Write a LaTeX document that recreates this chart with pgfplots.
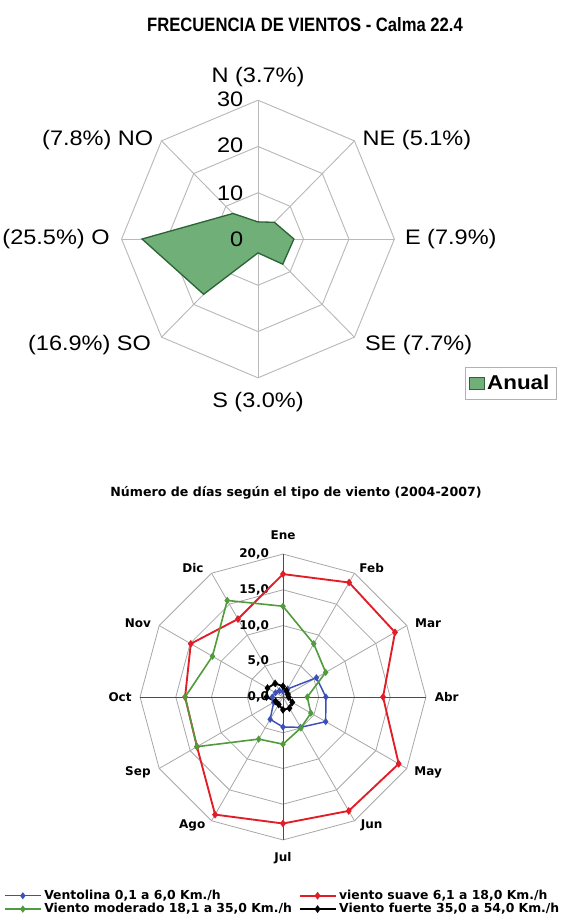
\documentclass[border=0pt]{standalone}
\usepackage{fontspec}
\setmainfont{Liberation Sans}
\newfontfamily\wfont[FakeStretch=1.12]{Liberation Sans}
\newfontfamily\nfont[FakeStretch=0.86]{Liberation Sans}
\newfontfamily\dvfont{DejaVu Sans}
\usepackage{pgfplots}
\pgfplotsset{compat=1.18}
\definecolor{gridc}{RGB}{185,185,185}
\definecolor{fillg}{RGB}{112,175,120}
\definecolor{drawg}{RGB}{45,100,55}
\definecolor{vblue}{RGB}{60,80,185}
\definecolor{vred}{RGB}{225,30,40}
\definecolor{vgreen}{RGB}{80,155,60}
\pgfplotsset{
  sqlegend/.style={legend image code/.code={\draw[##1,line width=0.6pt] (0pt,-4.5pt) rectangle (11pt,4.5pt);}},
  linelegend/.style={legend image code/.code={\draw[mark repeat=2,mark phase=2,##1] plot coordinates {(0pt,0pt)(13.5pt,0pt)(27pt,0pt)};}},
}
\begin{document}
\begin{tikzpicture}
\useasboundingbox (0,0) rectangle (421.5pt,-688.5pt);
% titles
\node[font=\nfont\bfseries\fontsize{14.5}{16}\selectfont] at (228.75pt,-18.75pt) {FRECUENCIA DE VIENTOS - Calma 22.4};
\node[font=\dvfont\bfseries\fontsize{9.45}{11}\selectfont] at (222pt,-369.75pt) {Número de días según el tipo de viento (2004-2007)};
% ---------------- top chart
\begin{axis}[
  at={(193.5pt,-179.25pt)}, anchor=center,
  x=3.41pt, y=3.47pt, xmin=-30, xmax=30, ymin=-30, ymax=30,
  hide axis, clip=false,
  legend style={at={(1.258,0.04)}, anchor=north west, draw=gray!60, fill=white,
    font=\wfont\bfseries\fontsize{15}{17}\selectfont, inner xsep=3pt, inner ysep=4pt},
]
\pgfplotsinvokeforeach{10,20,30}{
\addplot[gridc, line width=0.7pt, data cs=polar, forget plot] coordinates {(90,#1)(45,#1)(0,#1)(-45,#1)(-90,#1)(-135,#1)(180,#1)(135,#1)} -- cycle;
}
\pgfplotsinvokeforeach{0,45,90,135,180,225,270,315}{
\addplot[gridc, line width=0.7pt, data cs=polar, forget plot] coordinates {(#1,0)(#1,30)};
}
\addplot[fill=fillg, draw=drawg, line width=1pt, data cs=polar, sqlegend]
  coordinates {(90,3.7)(45,5.1)(0,7.9)(-45,7.7)(-90,3.0)(-135,16.9)(180,25.5)(135,7.8)} -- cycle;
\addlegendentry{Anual}
\begin{scope}[font=\wfont\fontsize{15.75}{18}\selectfont]
\node[anchor=east] at (axis cs:-2.2,30.3) {30};
\node[anchor=east] at (axis cs:-2.2,20.2) {20};
\node[anchor=east] at (axis cs:-2.2,9.9) {10};
\node[anchor=east] at (axis cs:-2.2,0) {0};
\node at (axis cs:0,35) {N (3.7\%)};
\node[anchor=west] at (axis cs:22,21.4) {NE (5.1\%)};
\node[anchor=west] at (axis cs:31.3,0) {E (7.9\%)};
\node[anchor=west] at (axis cs:22.5,-22.9) {SE (7.7\%)};
\node at (axis cs:0,-35.2) {S (3.0\%)};
\node[anchor=east] at (axis cs:-22.5,-22.9) {(16.9\%) SO};
\node[anchor=east] at (axis cs:-31.6,0) {(25.5\%) O};
\node[anchor=east] at (axis cs:-22,21.4) {(7.8\%) NO};
\end{scope}
\end{axis}
% ---------------- bottom chart
\begin{axis}[
  at={(212.25pt,-522.75pt)}, anchor=center,
  x=5.36pt, y=5.36pt, xmin=-20, xmax=20, ymin=-20, ymax=20,
  hide axis, clip=false,
  legend columns=2, legend cell align=left,
  legend style={at={(0.5,-0.171)}, anchor=north, draw=none, fill=none,
    font=\dvfont\bfseries\fontsize{9.3}{10}\selectfont,
    /tikz/every even column/.append style={column sep=3pt},
    nodes={inner ysep=0.5pt, text height=7pt, text depth=2pt},
    inner sep=0pt, row sep=0pt},
  linelegend,
]
\pgfplotsinvokeforeach{5,10,15,20}{
\addplot[gridc!90!black, line width=0.6pt, data cs=polar, forget plot] coordinates {(90,#1)(60,#1)(30,#1)(0,#1)(-30,#1)(-60,#1)(-90,#1)(-120,#1)(-150,#1)(180,#1)(150,#1)(120,#1)} -- cycle;
}
\pgfplotsinvokeforeach{30,60,120,150,210,240,300,330}{
\addplot[gridc!90!black, line width=0.6pt, data cs=polar, forget plot] coordinates {(#1,0)(#1,20)};
}
\pgfplotsinvokeforeach{0,90,180,270}{
\addplot[black!70, line width=0.7pt, data cs=polar, forget plot] coordinates {(#1,0)(#1,20)};
}
\begin{scope}[font=\dvfont\bfseries\fontsize{9}{10}\selectfont]
\node[anchor=east] at (axis cs:-1.3,20) {20,0};
\node[anchor=east] at (axis cs:-1.3,15) {15,0};
\node[anchor=east] at (axis cs:-1.3,10) {10,0};
\node[anchor=east] at (axis cs:-1.3,5) {5,0};
\node[anchor=east] at (axis cs:-1.3,0) {0,0};
\node at (axis cs:0,22.7) {Ene};
\node at (axis cs:12.4,18.0) {Feb};
\node at (axis cs:20.3,10.35) {Mar};
\node at (axis cs:22.9,0) {Abr};
\node at (axis cs:20.3,-10.5) {May};
\node at (axis cs:12.4,-17.9) {Jun};
\node at (axis cs:0,-22.5) {Jul};
\node at (axis cs:-12.7,-17.9) {Ago};
\node at (axis cs:-20.3,-10.5) {Sep};
\node at (axis cs:-22.8,0) {Oct};
\node at (axis cs:-20.3,10.35) {Nov};
\node at (axis cs:-12.6,18.0) {Dic};
\end{scope}
\addplot[vblue, line width=1.1pt, data cs=polar, mark=diamond*, mark size=1.8pt] coordinates {(90,0.8)(60,1.3)(30,5.4)(0,6.0)(-30,6.9)(-60,4.9)(-90,4.2)(-120,3.6)(-150,1.5)(180,1.5)(150,1.2)(120,1.0)} -- cycle;
\addlegendentry{Ventolina 0,1 a 6,0 Km./h}
\addplot[vred, line width=1.4pt, data cs=polar, mark=diamond*, mark size=1.8pt] coordinates {(90,17.2)(60,18.5)(30,18.1)(0,14.0)(-30,18.7)(-60,18.4)(-90,17.7)(-120,19.0)(-150,13.9)(180,13.7)(150,14.9)(120,12.6)} -- cycle;
\addlegendentry{viento suave 6,1 a 18,0 Km./h}
\addplot[vgreen, line width=1.2pt, data cs=polar, mark=diamond*, mark size=1.8pt] coordinates {(90,12.7)(60,8.6)(30,6.9)(0,3.4)(-30,4.5)(-60,5.0)(-90,6.6)(-120,6.8)(-150,13.9)(180,13.7)(150,11.4)(120,15.6)} -- cycle;
\addlegendentry{Viento moderado 18,1 a 35,0 Km./h}
\addplot[black, line width=1.4pt, data cs=polar, mark=diamond*, mark size=1.8pt] coordinates {(90,1.5)(60,1.0)(30,0.8)(0,0.8)(-30,1.5)(-60,1.8)(-90,1.8)(-120,1.2)(-150,1.2)(180,2.3)(150,2.5)(120,2.2)} -- cycle;
\addlegendentry{Viento fuerte 35,0 a 54,0 Km./h}
\end{axis}
\end{tikzpicture}
\end{document}
